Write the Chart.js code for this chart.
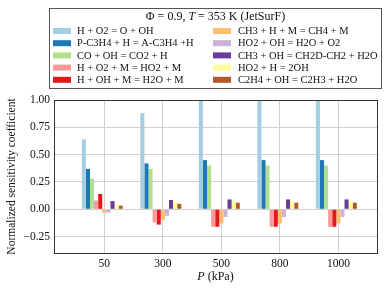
<!DOCTYPE html>
<html lang="en">
<head>
<meta charset="UTF-8">
<title>Sensitivity</title>
<script src="https://cdn.jsdelivr.net/npm/chart.js@4.4.1/dist/chart.umd.min.js"></script>
<style>
  html, body { margin: 0; padding: 0; background: #fff; }
  #wrap { width: 390px; height: 291px; }
</style>
</head>
<body>
<div id="wrap"><canvas id="sens" width="390" height="291"></canvas></div>
<script>
// pressures (kPa), one group of bars per pressure
const pressures = [50, 300, 500, 800, 1000];

const reactions = [
  'H + O2 = O + OH',
  'P-C3H4 + H = A-C3H4 +H',
  'CO + OH = CO2 + H',
  'H + O2 + M = HO2 + M',
  'H + OH + M = H2O + M',
  'CH3 + H + M = CH4 + M',
  'HO2 + OH = H2O + O2',
  'CH3 + OH = CH2D-CH2 + H2O',
  'HO2 + H = 2OH',
  'C2H4 + OH = C2H3 + H2O'
];

// normalized sensitivity coefficient per reaction, by pressure
const sH_O2_O_OH      = [0.64, 0.88, 1.10, 1.10, 1.10];
const sPC3H4_H        = [0.37, 0.42, 0.45, 0.45, 0.45];
const sCO_OH          = [0.28, 0.37, 0.40, 0.40, 0.40];
const sH_O2_M         = [0.08, -0.12, -0.16, -0.16, -0.16];
const sH_OH_M         = [0.14, -0.14, -0.16, -0.16, -0.16];
const sCH3_H_M        = [-0.035, -0.10, -0.13, -0.13, -0.13];
const sHO2_OH         = [-0.03, -0.06, -0.07, -0.07, -0.07];
const sCH3_OH         = [0.075, 0.085, 0.09, 0.09, 0.09];
const sHO2_H          = [0.04, 0.065, 0.075, 0.075, 0.075];
const sC2H4_OH        = [0.033, 0.05, 0.06, 0.06, 0.06];

const values = [sH_O2_O_OH, sPC3H4_H, sCO_OH, sH_O2_M, sH_OH_M,
                sCH3_H_M, sHO2_OH, sCH3_OH, sHO2_H, sC2H4_OH];

// matplotlib "Paired" colours
const colors = ['#a6cee3', '#1f78b4', '#b2df8a', '#fb9a99', '#e31a1c',
                '#fdbf6f', '#cab2d6', '#6a3d9a', '#ffff99', '#b15928'];

const yTicks = [-0.25, 0, 0.25, 0.5, 0.75, 1.0];

const SERIF = '"Liberation Serif", "DejaVu Serif", serif';

const datasets = reactions.map((r, i) => ({
  label: r,
  backgroundColor: colors[i],
  borderWidth: 0,
  data: values[i].map((v, j) => ({ x: j, y: v }))
}));
// empty slot so the group sits like matplotlib's (i-5)*w offsets
datasets.push({ label: '', data: pressures.map((p, j) => ({ x: j, y: null })) });

function fmt(v) {
  return (v < 0 ? '\u2212' : '') + Math.abs(v).toFixed(2);
}

// legend box, axis frame and x title
const extras = {
  id: 'extras',
  afterDraw(chart) {
    const ctx = chart.ctx;
    const a = chart.chartArea;
    ctx.save();

    // frame around plot
    ctx.strokeStyle = '#333';
    ctx.lineWidth = 1;
    ctx.strokeRect(Math.round(a.left) + 0.5, Math.round(a.top) + 0.5,
                   Math.round(a.right - a.left), Math.round(a.bottom - a.top));

    // x axis title with italic P
    ctx.fillStyle = '#111';
    ctx.textBaseline = 'middle';
    ctx.font = 'italic 12px ' + SERIF;
    const pW = ctx.measureText('P').width;
    ctx.font = '12px ' + SERIF;
    const rest = ' (kPa)';
    const rW = ctx.measureText(rest).width;
    let x0 = (a.left + a.right) / 2 - (pW + rW) / 2;
    ctx.font = 'italic 12px ' + SERIF;
    ctx.textAlign = 'left';
    ctx.fillText('P', x0, 277);
    ctx.font = '12px ' + SERIF;
    ctx.fillText(rest, x0 + pW, 277);

    // legend
    const bx = 49.5, by = 8.5, bw = 332, bh = 80;
    ctx.fillStyle = '#fff';
    ctx.fillRect(bx, by, bw, bh);
    ctx.strokeStyle = '#555';
    ctx.strokeRect(bx, by, bw, bh);

    // title: Φ = 0.9, T = 353 K (JetSurF)
    const t1 = '\u03a6 = 0.9, ', t2 = 'T', t3 = ' = 353 K (JetSurF)';
    ctx.font = '12px ' + SERIF;
    const w1 = ctx.measureText(t1).width, w3 = ctx.measureText(t3).width;
    ctx.font = 'italic 12px ' + SERIF;
    const w2 = ctx.measureText(t2).width;
    let tx = 215.5 - (w1 + w2 + w3) / 2;
    ctx.fillStyle = '#111';
    ctx.font = '12px ' + SERIF;
    ctx.fillText(t1, tx, 16.5);
    ctx.font = 'italic 12px ' + SERIF;
    ctx.fillText(t2, tx + w1, 16.5);
    ctx.font = '12px ' + SERIF;
    ctx.fillText(t3, tx + w1 + w2, 16.5);

    ctx.font = '10.5px ' + SERIF;
    reactions.forEach((r, i) => {
      const col = Math.floor(i / 5), row = i % 5;
      const sx = col === 0 ? 53 : 213;
      const txp = col === 0 ? 77 : 238;
      const cy = 31 + row * 12.2;
      ctx.fillStyle = colors[i];
      ctx.fillRect(sx, cy - 3, 18, 6);
      ctx.fillStyle = '#111';
      ctx.fillText(r, txp, cy + 0.5);
    });

    ctx.restore();
  }
};

new Chart(document.getElementById('sens'), {
  type: 'bar',
  data: { datasets: datasets },
  plugins: [extras],
  options: {
    responsive: false,
    animation: false,
    layout: { padding: { top: 100, right: 13, left: 0, bottom: 0 } },
    datasets: { bar: { categoryPercentage: 0.77, barPercentage: 1.0 } },
    plugins: { legend: { display: false }, tooltip: { enabled: false } },
    scales: {
      x: {
        type: 'linear',
        offset: false,
        min: -0.86,
        max: 4.66,
        afterBuildTicks(scale) { scale.ticks = pressures.map((p, j) => ({ value: j })); },
        afterFit(scale) { scale.height = 38; },
        grid: { color: '#d0d0d0', lineWidth: 1, drawTicks: false, offset: false },
        border: { display: false },
        ticks: {
          padding: 4,
          color: '#111',
          font: { family: SERIF, size: 11.5 },
          callback: (v) => pressures[v]
        }
      },
      y: {
        min: -0.4,
        max: 1.0,
        afterBuildTicks(scale) { scale.ticks = yTicks.map(v => ({ value: v })); },
        afterFit(scale) { scale.width = 54; },
        grid: { color: '#d0d0d0', lineWidth: 1, drawTicks: false },
        border: { display: false },
        ticks: {
          padding: 4,
          color: '#111',
          font: { family: SERIF, size: 11.5 },
          callback: (v) => fmt(v)
        },
        title: {
          display: true,
          text: 'Normalized sensitivity coefficient',
          color: '#111',
          font: { family: SERIF, size: 11.5 },
          padding: { top: 5, bottom: 0 }
        }
      }
    }
  }
});
</script>
</body>
</html>
